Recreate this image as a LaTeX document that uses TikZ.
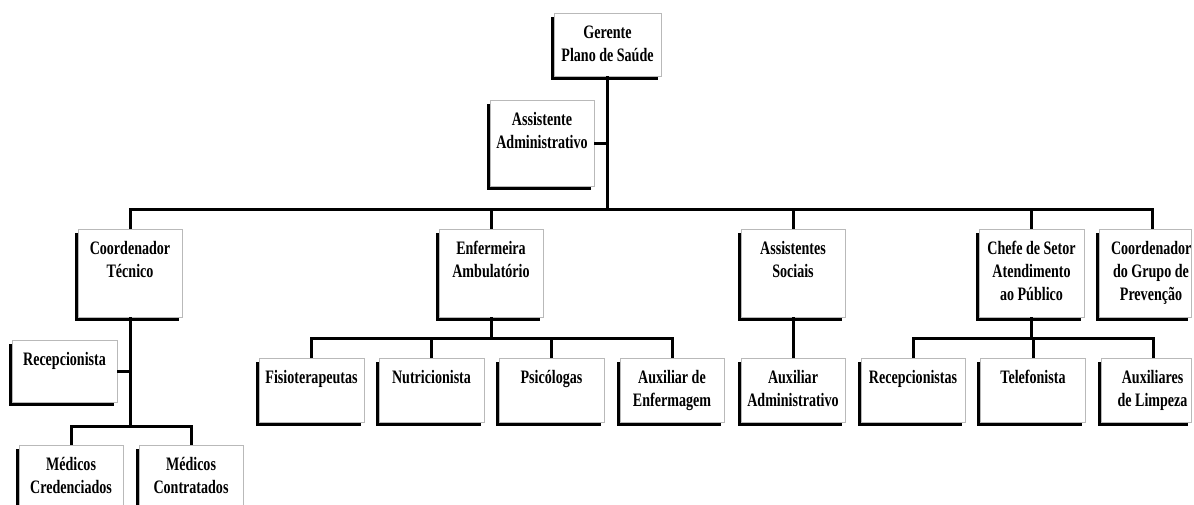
\documentclass[tikz,border=0pt]{standalone}
\usepackage{fontspec}
\setmainfont{Liberation Serif}[FakeStretch=0.74]
\usetikzlibrary{calc}

% box contents: width, height, lines (top aligned, centred, no hyphenation)
\newcommand{\bx}[3]{\parbox[c][#2pt][t]{#1pt}{\centering\hyphenpenalty=10000\exhyphenpenalty=10000\hbadness=10000\hfuzz=50pt\rule{0pt}{25pt}#3}}

\tikzset{
  orgbox/.style={draw=gray!55, line width=0.8pt, fill=white, inner sep=0pt,
    font=\fontsize{19}{23}\selectfont\bfseries,
    preaction={fill=black, draw=none, transform canvas={shift={(-3.2pt,-3.8pt)}}}},
  link/.style={line width=3pt}
}

\begin{document}
\begin{tikzpicture}[x=1pt,y=-1pt]
\useasboundingbox (0,0) rectangle (1194,504);

% top management
\node[orgbox] (ger) at (607.5,44.5) {\bx{107}{63}{Gerente\\Plano de Saúde}};
\node[orgbox] (asa) at (542,143) {\bx{104}{86}{Assistente\\Administrativo}};

% second level
\node[orgbox] (ct) at (130,273) {\bx{104}{88}{Coordenador\\Técnico}};
\node[orgbox] (en) at (491,273) {\bx{104}{88}{Enfermeira\\Ambulatório}};
\node[orgbox] (as) at (793,273) {\bx{104}{88}{Assistentes\\Sociais}};
\node[orgbox] (ch) at (1031.5,273) {\bx{105}{88}{Chefe de Setor\\Atendimento\\ao Público}};
\node[orgbox] (cg) at (1145,273) {\bx{92}{88}{\hspace*{12pt}Coordenador\\\hspace*{12pt}do Grupo de\\\hspace*{12pt}Prevenção}};

% third level
\node[orgbox] (fi) at (311.5,390) {\bx{105}{64}{Fisioterapeutas}};
\node[orgbox] (nu) at (431.5,390) {\bx{105}{64}{Nutricionista}};
\node[orgbox] (ps) at (551.5,390) {\bx{105}{64}{Psicólogas}};
\node[orgbox] (ae) at (672,390) {\bx{104}{64}{Auxiliar de\\Enfermagem}};
\node[orgbox] (aa) at (793,390) {\bx{104}{64}{Auxiliar\\Administrativo}};
\node[orgbox] (rc) at (913,390) {\bx{104}{64}{Recepcionistas}};
\node[orgbox] (te) at (1033,390) {\bx{105}{64}{Telefonista}};
\node[orgbox] (al) at (1146,390) {\bx{90}{64}{\hspace*{13pt}Auxiliares\\\hspace*{13pt}de Limpeza}};

% technical coordination branch
\node[orgbox] (rp) at (64.5,371) {\bx{105}{62}{Recepcionista}};
\node[orgbox] (mc) at (71,477) {\bx{104}{64}{Médicos\\Credenciados}};
\node[orgbox] (mk) at (191,477) {\bx{104}{64}{Médicos\\Contratados}};

% main trunk and bus
\coordinate (bus) at (607.5,209);
\draw[link] (ger.south) -- (bus);
\draw[link] (asa.east) -- (asa.east -| ger.south);
\draw[link] (ct.north) |- (bus) -| ($(cg.north)+(7,0)$);
\draw[link] (en.north) -- (en.north |- bus);
\draw[link] (as.north) -- (as.north |- bus);
\draw[link] (ch.north) -- (ch.north |- bus);

% nursing branch
\coordinate (enb) at (491,338);
\draw[link] (en.south) -- (enb);
\draw[link] (fi.north) |- (enb) -| (ae.north);
\draw[link] (nu.north) -- (nu.north |- enb);
\draw[link] (ps.north) -- (ps.north |- enb);

% social assistance branch
\draw[link] (as.south) -- (aa.north);

% public service branch
\coordinate (chb) at (1032,338);
\draw[link] (ch.south) -- (ch.south |- chb);
\draw[link] (rc.north) |- (chb) -| ($(al.north)+(7,0)$);
\draw[link] (te.north) -- (te.north |- chb);

% technical coordination
\coordinate (ctb) at (130,426);
\draw[link] (ct.south) -- (ctb);
\draw[link] (rp.east) -- (rp.east -| ct.south);
\draw[link] (mc.north) |- (ctb) -| (mk.north);
\end{tikzpicture}
\end{document}
